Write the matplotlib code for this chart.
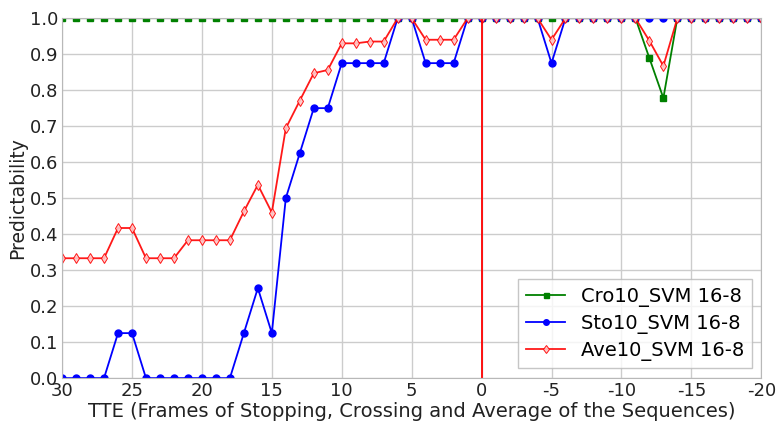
import matplotlib
matplotlib.use("Agg")
import matplotlib.pyplot as plt

plt.rcParams['font.family'] = ['DejaVu Sans']
plt.rcParams['axes.unicode_minus'] = False

# TTE frames, 30 down to -20
tte = list(range(30, -21, -1))

cro = [1.0] * 42 + [0.889, 0.778] + [1.0] * 7

sto = ([0.0, 0.0, 0.0, 0.0, 0.125, 0.125, 0.0, 0.0, 0.0, 0.0, 0.0, 0.0, 0.0,
        0.125, 0.25, 0.125, 0.5, 0.625, 0.75, 0.75,
        0.875, 0.875, 0.875, 0.875, 1.0, 1.0, 0.875, 0.875, 0.875, 1.0,
        1.0, 1.0, 1.0, 1.0, 1.0, 0.875]
       + [1.0] * 15)

ave = ([0.333, 0.333, 0.333, 0.333, 0.417, 0.417, 0.333, 0.333, 0.333,
        0.383, 0.383, 0.383, 0.383, 0.463, 0.537, 0.46, 0.694, 0.771, 0.847, 0.856,
        0.93, 0.93, 0.935, 0.935, 1.0, 1.0, 0.94, 0.94, 0.94, 1.0,
        1.0, 1.0, 1.0, 1.0, 1.0, 0.94]
       + [1.0] * 6 + [0.937, 0.867] + [1.0] * 7)

labels = ['Cro10_SVM 16-8', 'Sto10_SVM 16-8', 'Ave10_SVM 16-8']

fig = plt.figure(figsize=(7.76, 4.22), dpi=100)
ax = fig.add_axes([0.08, 0.104, 0.901, 0.853])

ax.plot(tte, cro, color='green', lw=1.3, marker='s', ms=4.5, mec='green', label=labels[0])
ax.plot(tte, sto, color='blue', lw=1.3, marker='o', ms=5, mec='blue', label=labels[1])
ax.plot(tte, ave, color='red', lw=1.3, marker='d', ms=5.5, mfc='#ffc8c8', mec='red',
        mew=0.7, alpha=0.9, label=labels[2])
ax.axvline(0, color='red', lw=1.3)

ax.set_xlim(30, -20)
ax.set_ylim(0, 1.0)
ax.set_xticks(range(30, -21, -5))
ax.set_yticks([i / 10 for i in range(11)])
ax.grid(True, color='#cccccc', lw=1, ls='-')
for sp in ax.spines.values():
    sp.set_color('#b8b8b8')
ax.tick_params(labelsize=13, length=0, pad=3, labelcolor='#222222')
ax.set_xlabel('TTE (Frames of Stopping, Crossing and Average of the Sequences)',
              fontsize=14, labelpad=1, color='#222222')
ax.set_ylabel('Predictability', fontsize=13.5, labelpad=2, color='#222222')
leg = ax.legend(loc='lower right', fontsize=14, fancybox=False, edgecolor='#b8b8b8',
                borderaxespad=0.5, handlelength=2.0, markerscale=0.8,
                labelspacing=0.35, borderpad=0.4)
leg.get_frame().set_linewidth(1.0)

fig.savefig('out.png', dpi=100)
